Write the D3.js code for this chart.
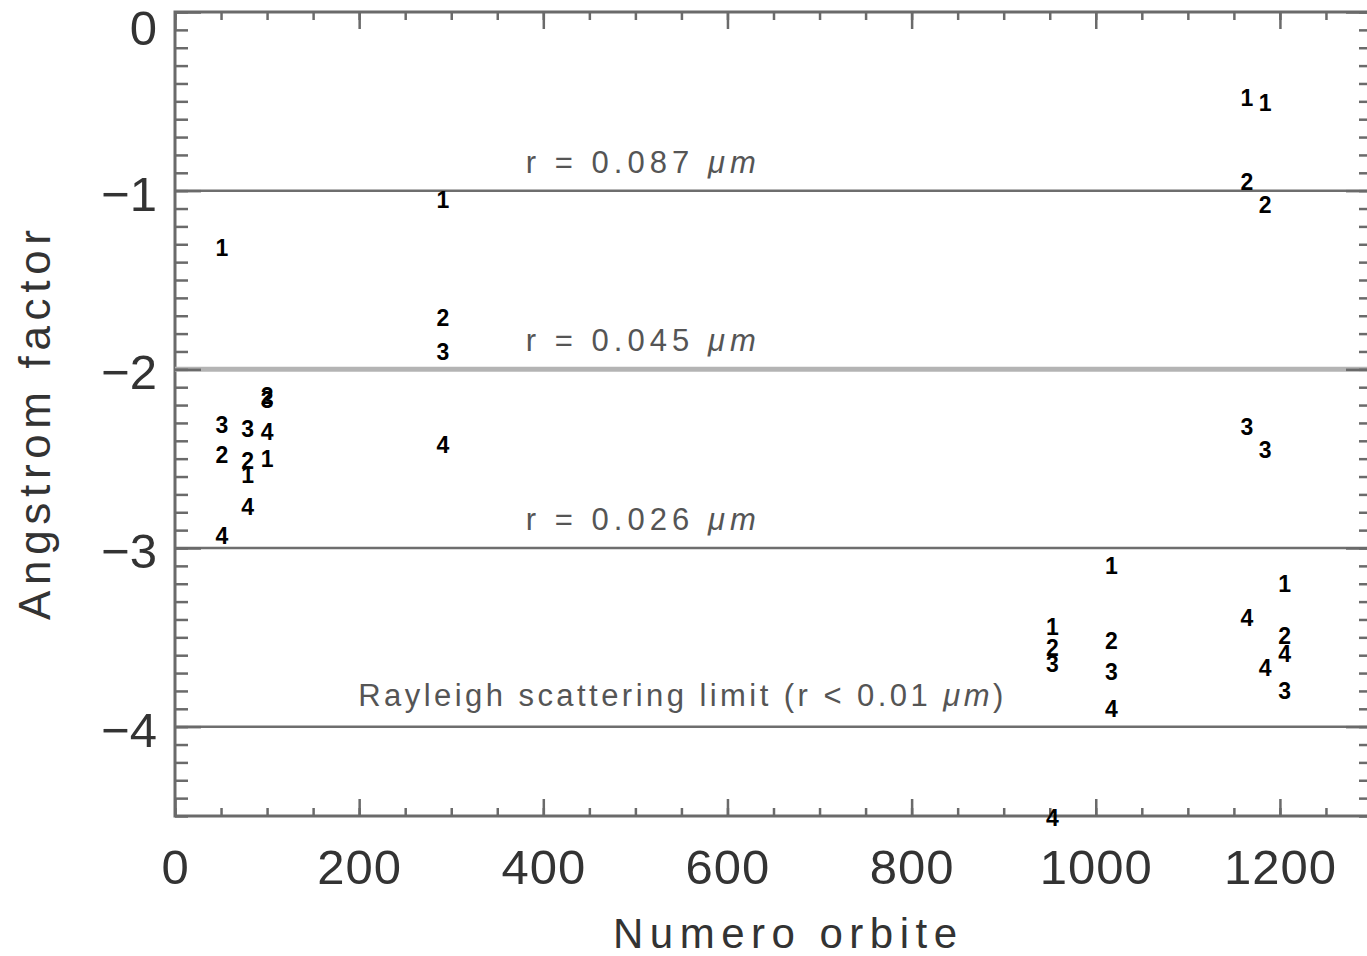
<!DOCTYPE html>
<html>
<head>
<meta charset="utf-8">
<script src="https://cdn.jsdelivr.net/npm/d3@7"></script>
<style>
  body { margin: 0; background: #fff; }
  svg { display: block; }
  .tick text { font-family: "Liberation Sans", Arial, sans-serif; fill: #333; }
</style>
</head>
<body>
<svg id="chart" width="1367" height="956"></svg>
<script>

// orbit numbers where the 4 channels were measured
var orbits   = [51, 79, 100, 291, 953, 1017, 1164, 1184, 1205];
// angstrom factor per channel (marker = channel number)
var channel1 = [-1.32, -2.59, -2.50, -1.05, -3.44, -3.10, -0.48, -0.51, -3.20];
var channel2 = [-2.48, -2.51, -2.15, -1.71, -3.56, -3.52, -0.95, -1.08, -3.49];
var channel3 = [-2.31, -2.33, -2.17, -1.90, -3.65, -3.69, -2.32, -2.45, -3.80];
var channel4 = [-2.93, -2.77, -2.35, -2.42, -4.51, -3.90, -3.39, -3.67, -3.59];

// reference levels and their labels
var refLevels = [-1, -2, -3, -4];
var refLabels = ['r = 0.087 ', 'r = 0.045 ', 'r = 0.026 ', 'Rayleigh scattering limit (r < 0.01 '];
var refLabelX = [381, 381, 381, 199];

var xTicks = [0, 200, 400, 600, 800, 1000, 1200];
var yTicks = [0, -1, -2, -3, -4];

window.onload = function(){

  var svg = d3.select('#chart');

  var x = d3.scaleLinear().domain([0, 1300]).range([175, 1372]);
  var y = d3.scaleLinear().domain([0, -4.5]).range([12, 816]);

  var axisCol = '#6a6a6a';

  // frame
  svg.append('rect')
    .attr('x', x(0)).attr('y', y(0))
    .attr('width', x(1300) - x(0)).attr('height', y(-4.5) - y(0))
    .attr('fill', 'none').attr('stroke', axisCol).attr('stroke-width', 3);

  // reference lines
  svg.selectAll('line.ref')
    .data(refLevels)
    .enter()
    .append('line')
      .attr('class', 'ref')
      .attr('x1', x(0)).attr('x2', x(1300))
      .attr('y1', function(d){ return y(d) })
      .attr('y2', function(d){ return y(d) })
      .attr('stroke', function(d){ return d === -2 ? '#b4b4b4' : '#6e6e6e' })
      .attr('stroke-width', function(d){ return d === -2 ? 5 : 2.5 });

  var refText = svg.selectAll('text.ref')
    .data(refLevels)
    .enter()
    .append('text')
      .attr('class', 'ref')
      .attr('x', function(d, i){ return x(refLabelX[i]) })
      .attr('y', function(d, i){ return y(d + (i === 3 ? 0.115 : 0.1)) })
      .attr('textLength', function(d, i){ return i === 3 ? 645 : 230 })
      .attr('lengthAdjust', 'spacing')
      .style('font-family', '"Liberation Sans", Arial, sans-serif')
      .style('font-size', '31px')
      .style('fill', '#555');
  refText.append('tspan').text(function(d, i){ return refLabels[i] });
  refText.append('tspan').style('font-style', 'italic').text('\u03bcm');
  refText.filter(function(d, i){ return i === 3 }).append('tspan').text(')');

  // minor ticks
  var minorX = d3.range(0, 1301, 50);
  var minorY = d3.range(0, 46).map(function(i){ return -i / 10 });

  function noLabels(g){ g.selectAll('text').remove(); g.select('.domain').remove(); }

  svg.append('g').attr('transform', 'translate(0,' + y(-4.5) + ')')
    .call(d3.axisBottom(x).tickValues(minorX).tickSize(-8)).call(noLabels);
  svg.append('g').attr('transform', 'translate(0,' + y(0) + ')')
    .call(d3.axisTop(x).tickValues(minorX).tickSize(-8)).call(noLabels);
  svg.append('g').attr('transform', 'translate(' + x(0) + ',0)')
    .call(d3.axisLeft(y).tickValues(minorY).tickSize(-13)).call(noLabels);
  svg.append('g').attr('transform', 'translate(' + x(1300) + ',0)')
    .call(d3.axisRight(y).tickValues(minorY).tickSize(-13)).call(noLabels);

  // major ticks with labels
  var xAxis = svg.append('g').attr('transform', 'translate(0,' + y(-4.5) + ')')
    .call(d3.axisBottom(x).tickValues(xTicks).tickSize(-17).tickPadding(33)
      .tickFormat(d3.format('d')));
  xAxis.select('.domain').remove();
  xAxis.selectAll('text').style('font-size', '49px').style('letter-spacing', '1px');

  svg.append('g').attr('transform', 'translate(0,' + y(0) + ')')
    .call(d3.axisTop(x).tickValues(xTicks).tickSize(-17)).call(noLabels);

  var yAxis = svg.append('g').attr('transform', 'translate(' + x(0) + ',0)')
    .call(d3.axisLeft(y).tickValues(yTicks).tickSize(-26).tickPadding(18)
      .tickFormat(function(d){ return d === 0 ? '0' : '\u2212' + (-d) }));
  yAxis.select('.domain').remove();
  yAxis.selectAll('text')
    .style('font-size', '49px')
    .attr('dy', function(d){ return d === 0 ? '0.66em' : '0.40em' });

  svg.append('g').attr('transform', 'translate(' + x(1300) + ',0)')
    .call(d3.axisRight(y).tickValues(yTicks).tickSize(-26)).call(noLabels);

  svg.selectAll('.tick line').attr('stroke', axisCol).attr('stroke-width', 2.5);

  // axis titles
  svg.append('text')
    .attr('x', 785).attr('y', 948)
    .attr('text-anchor', 'middle')
    .attr('textLength', 344)
    .style('font-family', '"Liberation Sans", Arial, sans-serif')
    .style('font-size', '42px')
    .style('fill', '#333')
    .text('Numero orbite');

  svg.append('text')
    .attr('transform', 'translate(50,425) rotate(-90)')
    .attr('text-anchor', 'middle')
    .attr('textLength', 390)
    .style('font-family', '"Liberation Sans", Arial, sans-serif')
    .style('font-size', '44px')
    .style('fill', '#333')
    .text('Angstrom factor');

  // data markers: the channel number drawn at each point
  var channels = [channel1, channel2, channel3, channel4];
  var points = [];
  channels.forEach(function(vals, c){
    vals.forEach(function(v, i){
      points.push({ orbit: orbits[i], value: v, label: String(c + 1) });
    });
  });

  svg.selectAll('text.pt')
    .data(points)
    .enter()
    .append('text')
      .attr('class', 'pt')
      .attr('x', function(d){ return x(d.orbit) })
      .attr('y', function(d){ return y(d.value) })
      .attr('dy', '0.36em')
      .attr('text-anchor', 'middle')
      .style('font-family', '"Liberation Sans", Arial, sans-serif')
      .style('font-weight', 'bold')
      .style('font-size', '23px')
      .style('fill', '#000')
      .text(function(d){ return d.label });

}

</script>
</body>
</html>
